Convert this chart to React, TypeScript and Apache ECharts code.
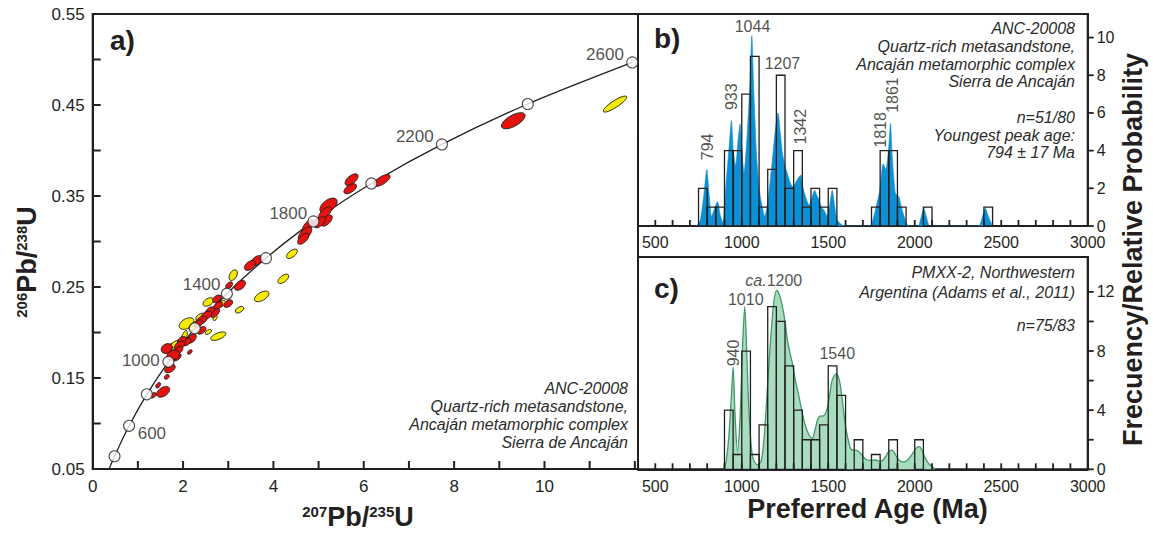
import React, { useEffect, useRef } from "react";
import * as echarts from "echarts";

const FONT = '"Liberation Sans", Arial, Helvetica, sans-serif';
const INK = "#231f20";

// ---------------- Panel a: concordia diagram ----------------
const concordiaAges = [300, 400, 600, 800, 1000, 1200, 1400, 1600, 1800, 2000, 2200, 2400, 2600];
const concordiaPb207U235 = [0.3437, 0.4828, 0.8057, 1.1988, 1.6774, 2.2604, 2.97, 3.8345, 4.8866, 6.1686, 7.7294, 9.6301, 11.944];
const concordiaPb206U238 = [0.0476, 0.064, 0.0975, 0.1321, 0.1678, 0.2046, 0.2426, 0.2817, 0.3221, 0.3638, 0.4067, 0.4511, 0.4968];
const concordiaLabels = [
  { text: "600", x: 1.31, y: 0.089 },
  { text: "1000", x: 1.065, y: 0.169 },
  { text: "1400", x: 2.41, y: 0.2524 },
  { text: "1800", x: 4.33, y: 0.331 },
  { text: "2200", x: 7.13, y: 0.4152 },
  { text: "2600", x: 11.34, y: 0.505 },
];
const aXMin = 0, aXMax = 12.07, aYMin = 0.05, aYMax = 0.55;
const aXTicks = [1, 2, 3, 4, 5, 6, 7, 8, 9, 10, 11, 12];
const aXLabels = [0, 2, 4, 6, 8, 10];
const aYTicks = [0.1, 0.15, 0.2, 0.25, 0.3, 0.35, 0.4, 0.45, 0.5];
const aYLabels = ["0.05", "0.15", "0.25", "0.35", "0.45", "0.55"];

// error ellipses: [207Pb/235U, 206Pb/238U, half-axis d(207/235), half-axis d(206/238), minor/major ratio]
const yellowEllipses = [
  [11.56, 0.451, 0.255, 0.0082, 0.25],
  [4.41, 0.2865, 0.111, 0.0044, 0.5],
  [4.22, 0.259, 0.111, 0.0044, 0.5],
  [3.74, 0.2397, 0.155, 0.0044, 0.5],
  [3.25, 0.225, 0.089, 0.0027, 0.55],
  [2.78, 0.196, 0.166, 0.0033, 0.4],
  [2.56, 0.2006, 0.066, 0.0022, 0.55],
  [2.71, 0.216, 0.033, 0.0027, 0.6],
  [3.11, 0.263, 0.066, 0.0055, 0.6],
  [2.56, 0.2335, 0.111, 0.0033, 0.6],
  [2.86, 0.2317, 0.066, 0.0033, 0.6],
  [2.08, 0.2098, 0.155, 0.0044, 0.6],
  [2.01, 0.1933, 0.066, 0.0088, 0.3],
  [1.75, 0.1841, 0.133, 0.0033, 0.5],
  [2.38, 0.217, 0.089, 0.0033, 0.6],
  [2.25, 0.2075, 0.111, 0.0044, 0.5],
  [1.85, 0.1875, 0.111, 0.0033, 0.5],
];
const redEllipses = [
  [9.31, 0.4327, 0.255, 0.0071, 0.42],
  [6.4, 0.367, 0.177, 0.0055, 0.4],
  [5.73, 0.368, 0.133, 0.0055, 0.5],
  [5.7, 0.358, 0.133, 0.0044, 0.5],
  [5.22, 0.3395, 0.177, 0.0066, 0.55],
  [5.14, 0.331, 0.133, 0.0066, 0.45],
  [5.18, 0.323, 0.111, 0.0055, 0.5],
  [5.03, 0.3212, 0.111, 0.0055, 0.5],
  [4.77, 0.3175, 0.111, 0.0055, 0.5],
  [4.7, 0.3084, 0.133, 0.0066, 0.5],
  [4.66, 0.303, 0.111, 0.0055, 0.5],
  [3.63, 0.279, 0.111, 0.0044, 0.6],
  [3.48, 0.2737, 0.111, 0.0044, 0.6],
  [3.26, 0.2518, 0.111, 0.0044, 0.6],
  [3.02, 0.2518, 0.066, 0.0033, 0.6],
  [3.0, 0.2317, 0.089, 0.0033, 0.6],
  [2.78, 0.2298, 0.089, 0.0033, 0.6],
  [2.75, 0.237, 0.089, 0.0033, 0.6],
  [2.71, 0.2214, 0.089, 0.0044, 0.5],
  [2.6, 0.224, 0.089, 0.0033, 0.6],
  [2.52, 0.2189, 0.111, 0.0033, 0.6],
  [2.41, 0.2134, 0.111, 0.0033, 0.6],
  [2.34, 0.2098, 0.089, 0.0033, 0.6],
  [2.41, 0.2024, 0.089, 0.0033, 0.6],
  [2.19, 0.1933, 0.089, 0.0044, 0.6],
  [2.08, 0.1896, 0.089, 0.0033, 0.6],
  [1.97, 0.1914, 0.089, 0.0033, 0.6],
  [1.93, 0.186, 0.111, 0.0033, 0.6],
  [1.64, 0.1823, 0.111, 0.0033, 0.8],
  [1.9, 0.1805, 0.089, 0.0033, 0.6],
  [1.86, 0.173, 0.089, 0.0033, 0.6],
  [1.78, 0.175, 0.133, 0.0033, 0.7],
  [2.15, 0.1786, 0.044, 0.0022, 0.6],
  [1.71, 0.1604, 0.111, 0.0033, 0.6],
  [1.64, 0.1512, 0.044, 0.0022, 0.7],
  [1.45, 0.142, 0.044, 0.0027, 0.6],
  [1.56, 0.1348, 0.133, 0.0044, 0.6],
  [1.34, 0.131, 0.066, 0.0022, 0.6],
];
const notesA = ["ANC-20008", "Quartz-rich metasandstone,", "Ancaján metamorphic complex", "Sierra de Ancaján"];

// ---------------- Panels b and c: age histograms ----------------
const ageMin = 400, ageMax = 3000;
const ageTicks = [500, 600, 700, 800, 900, 1000, 1100, 1200, 1300, 1400, 1500, 1600, 1700, 1800, 1900, 2000, 2100, 2200, 2300, 2400, 2500, 2600, 2700, 2800, 2900];
const ageLabels = [500, 1000, 1500, 2000, 2500, 3000];
const binWidth = 50;

const bYMax = 11.25;
const bBinStarts = [750, 800, 850, 900, 950, 1000, 1050, 1100, 1150, 1200, 1250, 1300, 1350, 1400, 1450, 1500, 1750, 1800, 1850, 1900, 2050, 2400];
const bCounts = [2, 1, 1, 4, 4, 7, 9, 1, 3, 8, 2, 4, 1, 2, 1, 2, 1, 4, 4, 1, 1, 1];
const bProbability = [
  [740, 0], [760, 0.3], [780, 1.6], [798, 3.0], [812, 1.6], [825, 0.5], [845, 1.0], [860, 1.3], [875, 0.6], [892, 0.15],
  [908, 2.1], [927, 4.2], [940, 5.6], [952, 3.85], [965, 3.2], [979, 4.6], [990, 5.4], [1002, 3.8], [1013, 2.8], [1033, 5.1],
  [1048, 7.7], [1058, 10.1], [1070, 7.0], [1085, 3.8], [1100, 2.0], [1110, 1.4], [1133, 0.5], [1152, 1.4], [1177, 3.5], [1195, 5.2],
  [1210, 6.0], [1222, 5.0], [1235, 3.85], [1250, 3.2], [1263, 2.8], [1280, 2.3], [1292, 2.1], [1305, 2.2], [1317, 2.4], [1331, 2.6],
  [1340, 2.7], [1355, 2.0], [1369, 1.55], [1389, 1.1], [1405, 1.5], [1421, 1.9], [1435, 1.6], [1446, 1.4], [1460, 1.0], [1475, 0.85],
  [1494, 0.5], [1510, 1.2], [1523, 1.9], [1538, 1.0], [1552, 0.3], [1581, 0.05], [1600, 0], [1744, 0], [1760, 0.4], [1773, 0.85],
  [1798, 1.9], [1817, 3.3], [1833, 3.0], [1850, 4.2], [1860, 5.45], [1869, 3.85], [1888, 1.73], [1908, 1.56], [1920, 1.1], [1933, 0.67],
  [1952, 0.14], [1965, 0], [2020, 0], [2035, 0.4], [2052, 0.94], [2070, 0.4], [2087, 0], [2370, 0], [2390, 0.45], [2408, 0.94],
  [2428, 0.45], [2450, 0],
];
const bYTicks = [0, 2, 4, 6, 8, 10];
const bPeakLabels = [
  { text: "794", x: 802, y: 4.2, rotate: 90 },
  { text: "933", x: 942, y: 6.86, rotate: 90 },
  { text: "1044", x: 1062, y: 10.6, rotate: 0 },
  { text: "1207", x: 1235, y: 8.63, rotate: 0 },
  { text: "1342", x: 1340, y: 5.27, rotate: 90 },
  { text: "1818", x: 1802, y: 5.1, rotate: 90 },
  { text: "1861", x: 1869, y: 6.95, rotate: 90 },
];
const notesB = ["ANC-20008", "Quartz-rich metasandstone,", "Ancaján metamorphic complex", "Sierra de Ancaján", "", "n=51/80", "Youngest peak age:", "794 ± 17 Ma"];

const cYMax = 14.36;
const cBinStarts = [900, 950, 1000, 1050, 1100, 1150, 1200, 1250, 1300, 1350, 1400, 1450, 1500, 1550, 1650, 1750, 1850, 2000];
const cCounts = [4, 1, 8, 1, 3, 11, 10, 7, 4, 2, 2, 3, 7, 5, 2, 1, 2, 2];
const cProbability = [
  [895, 0], [910, 0.6], [925, 2.2], [940, 5.0], [950, 6.9], [960, 4.0], [975, 1.2], [990, 3.5], [1005, 8.5], [1017, 11.0],
  [1030, 7.5], [1042, 3.8], [1062, 0.86], [1090, 0.3], [1110, 0.5], [1125, 1.6], [1138, 3.6], [1152, 6.2], [1167, 8.8], [1185, 11.3],
  [1202, 12.1], [1218, 11.8], [1235, 11.0], [1250, 10.0], [1263, 8.8], [1278, 7.9], [1292, 7.2], [1310, 6.0], [1331, 4.9], [1350, 3.8],
  [1369, 2.9], [1390, 2.3], [1408, 2.1], [1422, 2.6], [1437, 3.3], [1452, 3.6], [1465, 3.6], [1480, 3.7], [1494, 4.1], [1508, 5.0],
  [1523, 6.05], [1546, 6.45], [1560, 6.2], [1571, 5.6], [1585, 4.3], [1600, 2.9], [1615, 2.0], [1629, 1.4], [1645, 1.3], [1658, 1.3],
  [1675, 1.2], [1687, 1.08], [1705, 0.8], [1725, 0.63], [1750, 0.6], [1773, 0.63], [1790, 0.55], [1802, 0.52], [1818, 0.65], [1831, 0.86],
  [1850, 1.2], [1869, 1.3], [1890, 0.95], [1908, 0.63], [1930, 0.5], [1946, 0.52], [1960, 0.65], [1975, 0.86], [1995, 1.2], [2010, 1.45],
  [2027, 1.53], [2045, 1.2], [2061, 0.74], [2080, 0.4], [2100, 0.18], [2119, 0],
];
const cYTicks = [0, 2, 4, 6, 8, 10, 12];
const cYLabels = [0, 4, 8, 12];
const cPeakLabels = [
  { text: "940", x: 952, y: 7.87, rotate: 90 },
  { text: "1010", x: 1023, y: 11.46, rotate: 0 },
  { text: "{i|ca.}1200", x: 1185, y: 12.8, rotate: 0 },
  { text: "1540", x: 1552, y: 7.8, rotate: 0 },
];

const axisLineStyle = { show: true, onZero: false, lineStyle: { color: INK, width: 2 } };
const labelStyle = (size: number, margin: number) => ({ fontSize: size, color: INK, fontFamily: FONT, margin, showMinLabel: true, showMaxLabel: true, hideOverlap: false });
const pick = (list: (number | string)[], digits: number) => (v: number) => {
  const s = digits > 0 ? v.toFixed(digits) : String(Math.round(v));
  return list.map(String).includes(s) && Math.abs(v - Number(s)) < 1e-6 ? s : "";
};

// tick marks: one custom-series item per axis, drawing all its ticks as a group of thin rects
function tickGroupSeries(i: number, side: string, values: number[], baseValue: number, len: number, w: number) {
  return {
    type: "custom", xAxisIndex: i, yAxisIndex: i, silent: true, z: 40, clip: false,
    data: [[0]],
    renderItem: (_params: any, api: any) => {
      const children = values.map((v) => {
        if (side === "bottom") {
          const p = api.coord([v, baseValue]);
          return { type: "rect", shape: { x: p[0] - w / 2, y: p[1] - len, width: w, height: len }, style: { fill: INK } };
        }
        const p = api.coord([baseValue, v]);
        if (side === "left") return { type: "rect", shape: { x: p[0], y: p[1] - w / 2, width: len, height: w }, style: { fill: INK } };
        return { type: "rect", shape: { x: p[0], y: p[1] - w / 2, width: len, height: w }, style: { fill: INK } };
      });
      return { type: "group", children };
    },
  };
}

function ellipseRender(fill: string) {
  return (_params: any, api: any) => {
    const x = api.value(0), y = api.value(1);
    const c = api.coord([x, y]);
    const t = api.coord([x + api.value(2), y + api.value(3)]);
    const vx = t[0] - c[0], vy = t[1] - c[1];
    const rx = Math.sqrt(vx * vx + vy * vy);
    return {
      type: "ellipse",
      x: c[0], y: c[1],
      rotation: Math.atan2(-vy, vx),
      shape: { cx: 0, cy: 0, rx, ry: rx * api.value(4) },
      style: { fill, stroke: "#1a1a1a", lineWidth: 0.8 },
    };
  };
}

function barRender(_params: any, api: any) {
  const a = api.coord([api.value(0), api.value(2)]);
  const b = api.coord([api.value(1), 0]);
  return {
    type: "rect",
    shape: { x: a[0], y: a[1], width: b[0] - a[0], height: b[1] - a[1] },
    style: { fill: "none", stroke: INK, lineWidth: 1.3 },
  };
}

function labelSeries(xi: number, yi: number, items: { text: string; x: number; y: number; rotate?: number }[], size: number) {
  return {
    type: "scatter", xAxisIndex: xi, yAxisIndex: yi, symbolSize: 1, silent: true, z: 10,
    itemStyle: { color: "rgba(0,0,0,0)" },
    label: {
      show: true, position: "inside", fontSize: size, color: INK, fontFamily: FONT,
      rich: { i: { fontStyle: "italic", fontSize: size, color: INK, fontFamily: FONT } },
    },
    data: items.map((d) => ({ value: [d.x, d.y], label: { formatter: d.text, rotate: d.rotate || 0 } })),
  };
}

const supRich = {
  s: { fontSize: 15, fontWeight: "bold", fontFamily: FONT, fill: INK, padding: [0, 0, 11, 0] },
  m: { fontSize: 27, fontWeight: "bold", fontFamily: FONT, fill: INK },
};

const textGraphics: any[] = [
  { type: "text", x: 110, y: 40, silent: true, style: { text: "a)", fontSize: 28, fontWeight: "bold", fontFamily: FONT, fill: INK, verticalAlign: "middle" } },
  { type: "text", x: 654, y: 38, silent: true, style: { text: "b)", fontSize: 28, fontWeight: "bold", fontFamily: FONT, fill: INK, verticalAlign: "middle" } },
  { type: "text", x: 654, y: 288, silent: true, style: { text: "c)", fontSize: 28, fontWeight: "bold", fontFamily: FONT, fill: INK, verticalAlign: "middle" } },
  {
    type: "text", x: 628, y: 379, silent: true,
    style: { text: notesA.join("\n"), fontSize: 16, fontStyle: "italic", fontFamily: FONT, fill: "#2b2b2b", align: "right", verticalAlign: "top", lineHeight: 18 },
  },
  {
    type: "text", x: 1075, y: 20, silent: true,
    style: { text: notesB.join("\n"), fontSize: 16, fontStyle: "italic", fontFamily: FONT, fill: "#2b2b2b", align: "right", verticalAlign: "top", lineHeight: 17.7 },
  },
  {
    type: "text", x: 1075, y: 272, silent: true,
    style: { text: "PMXX-2, Northwestern", fontSize: 16, fontStyle: "italic", fontFamily: FONT, fill: "#2b2b2b", align: "right", verticalAlign: "middle" },
  },
  {
    type: "text", x: 1075, y: 292.5, silent: true,
    style: { text: "Argentina (Adams et al., 2011)", fontSize: 16, fontStyle: "italic", fontFamily: FONT, fill: "#2b2b2b", align: "right", verticalAlign: "middle" },
  },
  {
    type: "text", x: 1075, y: 325.5, silent: true,
    style: { text: "n=75/83", fontSize: 16, fontStyle: "italic", fontFamily: FONT, fill: "#2b2b2b", align: "right", verticalAlign: "middle" },
  },
  {
    type: "text", x: 358, y: 517, silent: true,
    style: { text: "{s|207}{m|Pb/}{s|235}{m|U}", rich: supRich, align: "center", verticalAlign: "middle" },
  },
  {
    type: "text", x: 27, y: 262, rotation: Math.PI / 2, silent: true,
    style: { text: "{s|206}{m|Pb/}{s|238}{m|U}", rich: supRich, align: "center", verticalAlign: "middle" },
  },
  {
    type: "text", x: 867.5, y: 508.5, silent: true,
    style: { text: "Preferred Age (Ma)", fontSize: 27, fontWeight: "bold", fontFamily: FONT, fill: INK, align: "center", verticalAlign: "middle" },
  },
  {
    type: "text", x: 1132.5, y: 249.5, rotation: Math.PI / 2, silent: true,
    style: { text: "Frecuency/Relative Probability", fontSize: 27, fontWeight: "bold", fontFamily: FONT, fill: INK, align: "center", verticalAlign: "middle" },
  },
];

export default function App() {
  const ref = useRef<HTMLDivElement>(null);
  useEffect(() => {
    if (!ref.current) return;
    const chart = echarts.init(ref.current, undefined, { renderer: "svg" });
    const concordia = concordiaAges.map((_, i) => [concordiaPb207U235[i], concordiaPb206U238[i]]);
    const markers = concordia.filter((_, i) => concordiaAges[i] >= 400);
    const bBars = bBinStarts.map((s, i) => [s, s + binWidth, bCounts[i]]);
    const cBars = cBinStarts.map((s, i) => [s, s + binWidth, cCounts[i]]);
    const gridBase = { show: true, borderColor: INK, borderWidth: 2, backgroundColor: "transparent", containLabel: false };
    const noTick = { show: false };

    chart.setOption({
      animation: false,
      backgroundColor: "#ffffff",
      grid: [
        { ...gridBase, left: 92.7, top: 14, width: 545.3, height: 455 },
        { ...gridBase, left: 638, top: 14, width: 449.7, height: 212 },
        { ...gridBase, left: 638, top: 257, width: 449.7, height: 212.3 },
      ],
      xAxis: [
        {
          gridIndex: 0, type: "value", min: aXMin, max: aXMax, interval: 1, splitLine: { show: false }, axisLine: axisLineStyle,
          axisTick: noTick, axisLabel: { ...labelStyle(17, 9), formatter: pick(aXLabels, 0) },
        },
        {
          gridIndex: 1, type: "value", min: ageMin, max: ageMax, interval: 100, splitLine: { show: false }, axisLine: axisLineStyle,
          axisTick: noTick, axisLabel: { ...labelStyle(16, 8), formatter: pick(ageLabels, 0) },
        },
        {
          gridIndex: 2, type: "value", min: ageMin, max: ageMax, interval: 100, splitLine: { show: false }, axisLine: axisLineStyle,
          axisTick: noTick, axisLabel: { ...labelStyle(16, 9), formatter: pick(ageLabels, 0) },
        },
      ],
      yAxis: [
        {
          gridIndex: 0, type: "value", min: aYMin, max: aYMax, interval: 0.05, splitLine: { show: false }, axisLine: axisLineStyle,
          axisTick: noTick, axisLabel: { ...labelStyle(17, 8), formatter: pick(aYLabels, 2) },
        },
        {
          gridIndex: 1, type: "value", position: "right", min: 0, max: bYMax, interval: 2, splitLine: { show: false }, axisLine: axisLineStyle,
          axisTick: noTick, axisLabel: { ...labelStyle(16, 9), formatter: pick(bYTicks, 0) },
        },
        {
          gridIndex: 2, type: "value", position: "right", min: 0, max: cYMax, interval: 2, splitLine: { show: false }, axisLine: axisLineStyle,
          axisTick: noTick, axisLabel: { ...labelStyle(16, 9), formatter: pick(cYLabels, 0) },
        },
      ],
      series: [
        {
          type: "line", xAxisIndex: 0, yAxisIndex: 0, data: concordia, smooth: 0.3, showSymbol: false, silent: true, z: 1,
          lineStyle: { color: INK, width: 1.3 },
        },
        { type: "custom", xAxisIndex: 0, yAxisIndex: 0, data: yellowEllipses, renderItem: ellipseRender("#f4ea00"), encode: { x: 0, y: 1 }, silent: true, z: 2 },
        { type: "custom", xAxisIndex: 0, yAxisIndex: 0, data: redEllipses, renderItem: ellipseRender("#e3140f"), encode: { x: 0, y: 1 }, silent: true, z: 3 },
        {
          type: "scatter", xAxisIndex: 0, yAxisIndex: 0, data: markers, symbol: "circle", symbolSize: 11, silent: true, z: 4,
          itemStyle: { color: "#ffffff", borderColor: INK, borderWidth: 1.1 },
        },
        labelSeries(0, 0, concordiaLabels, 17),
        {
          type: "line", xAxisIndex: 1, yAxisIndex: 1, data: bProbability, smooth: 0.2, showSymbol: false, silent: true, z: 2,
          lineStyle: { color: "#0a8bd0", width: 0.6 }, areaStyle: { color: "#0b90d6", opacity: 1 },
        },
        { type: "custom", xAxisIndex: 1, yAxisIndex: 1, data: bBars, renderItem: barRender, encode: { x: [0, 1], y: 2 }, silent: true, z: 3 },
        labelSeries(1, 1, bPeakLabels, 16),
        {
          type: "line", xAxisIndex: 2, yAxisIndex: 2, data: cProbability, smooth: 0.3, showSymbol: false, silent: true, z: 2,
          lineStyle: { color: "#3f9a6c", width: 1.3 }, areaStyle: { color: "#a9dbbe", opacity: 1 },
        },
        { type: "custom", xAxisIndex: 2, yAxisIndex: 2, data: cBars, renderItem: barRender, encode: { x: [0, 1], y: 2 }, silent: true, z: 3 },
        labelSeries(2, 2, cPeakLabels, 16),
        // tick marks
        tickGroupSeries(0, "bottom", aXTicks, aYMin, 8, 2),
        tickGroupSeries(0, "left", aYTicks, aXMin, 8, 2),
        tickGroupSeries(1, "bottom", ageTicks, 0, 6, 1.8),
        tickGroupSeries(2, "bottom", ageTicks, 0, 6, 1.8),
        tickGroupSeries(1, "right", bYTicks, ageMax, 6, 1.8),
        tickGroupSeries(2, "right", cYTicks, ageMax, 6, 1.8),
      ],
      graphic: textGraphics,
    });
    return () => chart.dispose();
  }, []);
  return <div ref={ref} style={{ position: "fixed", left: 0, top: 0, width: 1153, height: 536, background: "#fff" }} />;
}
